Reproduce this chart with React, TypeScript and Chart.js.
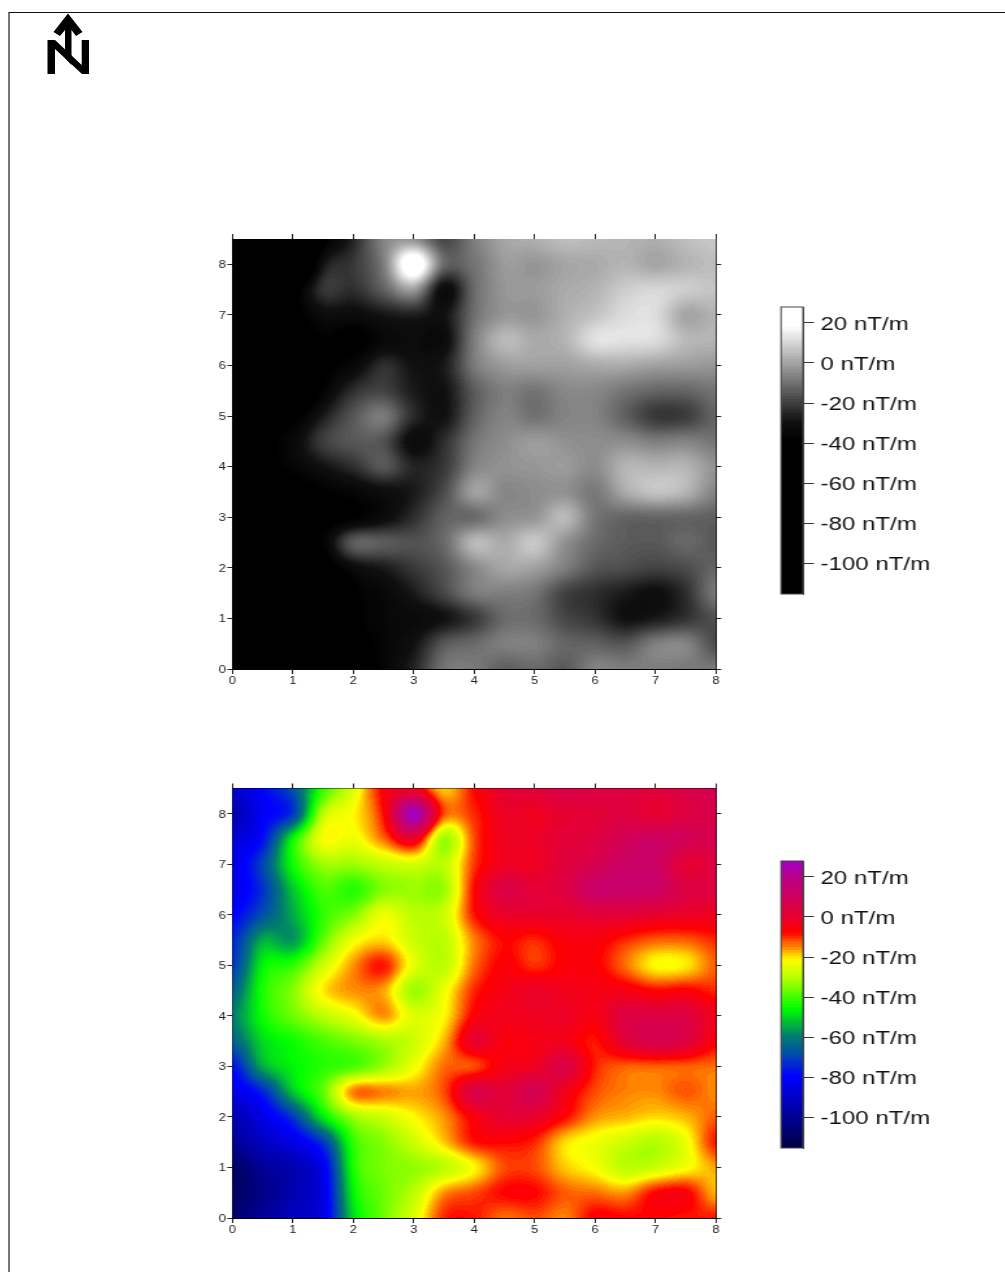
import React, { useEffect, useRef } from "react";
import { Chart, registerables } from "chart.js";

Chart.register(...registerables);

const xCoords = [0, 0.5, 1, 1.5, 2, 2.5, 3, 3.5, 4, 4.5, 5, 5.5, 6, 6.5, 7, 7.5, 8];
const yCoords = [8.5, 8, 7.5, 7, 6.5, 6, 5.5, 5, 4.5, 4, 3.5, 3, 2.5, 2, 1.5, 1, 0.5, 0];

const row85 = [-90, -80, -68, -42, -26, -7, -4, -19, -8, 0, 2, 5, 4, 3, 2, 5, 7];
const row80 = [-95, -82, -72, -30, -22, -8, 27, -12, -10, -2, -3, 0, 1, 3, 0, 3, 5];
const row75 = [-88, -78, -46, -23, -24, -14, -2, -33, -12, -3, -2, 1, 3, 8, 10, 8, 6];
const row70 = [-85, -70, -45, -33, -33, -29, -27, -30, -11, -3, -3, 2, 6, 11, 11, 0, 3];
const row65 = [-85, -73, -52, -40, -43, -35, -33, -33, -8, 4, 1, 3, 12, 12, 11, 4, 3];
const row60 = [-80, -68, -55, -42, -35, -24, -30, -28, -9, -2, -1, -1, 1, 1, -1, -2, -3];
const row55 = [-75, -55, -57, -38, -24, -20, -28, -30, -15, -8, -10, -6, -6, -10, -13, -13, -10];
const row50 = [-72, -47, -42, -28, -16, -9, -25, -30, -14, -7, -10.5, -7, -7, -14, -22, -21, -13];
const row45 = [-65, -44, -35, -21, -16, -17, -33, -24, -10, -5, -2, -4, -5, -5, -8, -7, -10];
const row40 = [-60, -45, -37, -30, -24, -16, -26, -22, -7, -4, -3, -2, -5, 3, 3, 3, -4];
const row35 = [-65, -50, -45, -40, -36, -32, -28, -18, -1, -6, -5, -4, -9, 1, 6, 3, -7];
const row30 = [-78, -55, -47, -43, -40, -33, -24, -14, -12, -5, -3, 4, -9.5, -13, -13, -13, -14];
const row25 = [-85, -75, -52, -38, -15, -15, -17, -12, 4, 1, 7, -4, -12, -15, -15.5, -12.5, -15.5];
const row20 = [-95, -85, -72, -48, -33, -28, -22, -16, -6, 0, -1, -8, -16, -18, -20, -18, -13];
const row15 = [-100, -92, -85, -72, -42, -35, -28, -19, -9, -8, -10, -20, -24, -28, -31, -24, -9];
const row10 = [-110, -100, -95, -83, -44, -36, -34, -30, -22, -12, -12, -19, -23, -30, -28, -23, -17];
const row05 = [-110, -103, -95, -85, -47, -37, -30, -16, -12, -8, -8, -13, -14, -16, -8, -7, -18];
const row00 = [-108, -100, -92, -85, -50, -37, -26, -10, -9, -14, -12, -15, -7, -8, -8, -9, -9];

const grid = [row85, row80, row75, row70, row65, row60, row55, row50, row45, row40, row35, row30, row25, row20, row15, row10, row05, row00];

const xTicks = [0, 1, 2, 3, 4, 5, 6, 7, 8];
const yTicks = [0, 1, 2, 3, 4, 5, 6, 7, 8];
const legendTicks = [-100, -80, -60, -40, -20, 0, 20];
const legendUnit = "nT/m";
const legendMin = -115.5;
const legendMax = 28;

type Stop = [number, number, number, number];
const greyStops: Stop[] = [
  [-40, 0, 0, 0],
  [-30, 16, 16, 16],
  [18, 255, 255, 255],
];
const rainbowStops: Stop[] = [
  [-115.5, 0, 0, 70],
  [-80, 0, 0, 255],
  [-70, 0, 70, 180],
  [-60, 0, 125, 110],
  [-46, 0, 255, 0],
  [-31, 180, 255, 0],
  [-22, 255, 255, 0],
  [-15, 255, 128, 0],
  [-8, 255, 0, 0],
  [0, 230, 0, 50],
  [10, 205, 0, 95],
  [20, 185, 0, 140],
  [28, 160, 0, 200],
];

const STRETCH = 1.3;
const LEVEL = 0.8;

function colourAt(stops: Stop[], raw: number): [number, number, number] {
  const v = Math.round(raw / LEVEL) * LEVEL;
  if (v <= stops[0][0]) return [stops[0][1], stops[0][2], stops[0][3]];
  for (let i = 1; i < stops.length; i++) {
    if (v <= stops[i][0]) {
      const a = stops[i - 1];
      const b = stops[i];
      const t = (v - a[0]) / (b[0] - a[0]);
      return [a[1] + (b[1] - a[1]) * t, a[2] + (b[2] - a[2]) * t, a[3] + (b[3] - a[3]) * t];
    }
  }
  const l = stops[stops.length - 1];
  return [l[1], l[2], l[3]];
}

function cubic(p0: number, p1: number, p2: number, p3: number, t: number) {
  return p1 + 0.5 * t * (p2 - p0 + t * (2 * p0 - 5 * p1 + 4 * p2 - p3 + t * (3 * (p1 - p2) + p3 - p0)));
}

function sample(x: number, y: number) {
  const fx = Math.min(Math.max(x / 0.5, 0), xCoords.length - 1.0001);
  const fy = Math.min(Math.max((8.5 - y) / 0.5, 0), yCoords.length - 1.0001);
  const ix = Math.floor(fx);
  const iy = Math.floor(fy);
  const tx = fx - ix;
  const ty = fy - iy;
  const at = (r: number, c: number) =>
    grid[Math.min(Math.max(r, 0), grid.length - 1)][Math.min(Math.max(c, 0), xCoords.length - 1)];
  const rows = [-1, 0, 1, 2].map((d) =>
    cubic(at(iy + d, ix - 1), at(iy + d, ix), at(iy + d, ix + 1), at(iy + d, ix + 2), tx)
  );
  return cubic(rows[0], rows[1], rows[2], rows[3], ty);
}

const heatPlugin = {
  id: "heat",
  beforeDatasetsDraw(chart: any, _a: any, opts: any) {
    const { left, right, top, bottom } = chart.chartArea;
    const sx = chart.scales.x;
    const sy = chart.scales.y;
    const x0 = Math.floor(left);
    const y0 = Math.floor(top);
    const w = Math.ceil(right) - x0;
    const h = Math.ceil(bottom) - y0;
    const off = document.createElement("canvas");
    off.width = w;
    off.height = h;
    const octx = off.getContext("2d")!;
    const img = octx.createImageData(w, h);
    for (let j = 0; j < h; j++) {
      const vy = sy.getValueForPixel(y0 + j + 0.5);
      for (let i = 0; i < w; i++) {
        const vx = sx.getValueForPixel(x0 + i + 0.5);
        const c = colourAt(opts.stops, sample(vx, vy));
        const k = (j * w + i) * 4;
        img.data[k] = c[0];
        img.data[k + 1] = c[1];
        img.data[k + 2] = c[2];
        img.data[k + 3] = 255;
      }
    }
    octx.putImageData(img, 0, 0);
    const ctx = chart.ctx;
    ctx.save();
    ctx.beginPath();
    ctx.rect(left, top, right - left, bottom - top);
    ctx.clip();
    ctx.drawImage(off, x0, y0);
    ctx.restore();
  },
};

const framePlugin = {
  id: "frame",
  afterDatasetsDraw(chart: any) {
    const { left, right, top, bottom } = chart.chartArea;
    const ctx = chart.ctx;
    ctx.save();
    ctx.strokeStyle = "#444";
    ctx.lineWidth = 1;
    ctx.strokeRect(left, top, right - left, bottom - top);
    ctx.restore();
  },
};

function setTicks(values: number[]) {
  return (scale: any) => {
    scale.ticks = values.map((value) => ({ value }));
  };
}
function fixWidth(width: number) {
  return (scale: any) => {
    scale.width = width;
    scale.paddingTop = 0;
    scale.paddingBottom = 0;
  };
}
function fixHeight(height: number) {
  return (scale: any) => {
    scale.height = height;
    scale.paddingLeft = 0;
    scale.paddingRight = 0;
  };
}

const FONT = "'Liberation Sans', Arial, sans-serif";

function heatConfig(stops: Stop[], paddingTop: number, paddingBottom: number) {
  const common = {
    grid: { drawOnChartArea: false, drawTicks: true, color: "#222", tickWidth: 1, lineWidth: 1 },
    border: { color: "#000", width: 1 },
  };
  const points = grid.flatMap((r, j) => r.map((v, i) => ({ x: xCoords[i], y: yCoords[j], v })));
  return {
    type: "scatter",
    data: { datasets: [{ data: points, pointRadius: 0, showLine: false, xAxisID: "x", yAxisID: "y" }] },
    plugins: [heatPlugin],
    options: {
      animation: false,
      responsive: false,
      events: [],
      layout: { padding: { left: 0, right: 7.7, top: paddingTop, bottom: paddingBottom } },
      plugins: { legend: { display: false }, tooltip: { enabled: false }, heat: { stops } },
      scales: {
        x: {
          type: "linear",
          position: "bottom",
          min: 0,
          max: 8,
          afterBuildTicks: setTicks(xTicks),
          afterFit: fixHeight(18),
          ...common,
          grid: { ...common.grid, tickLength: 5 },
          ticks: { font: { size: 10, family: FONT }, color: "#222", padding: 1, maxRotation: 0, autoSkip: false },
        },
        xTop: {
          type: "linear",
          position: "top",
          min: 0,
          max: 8,
          afterBuildTicks: setTicks(xTicks),
          afterFit: fixHeight(5),
          ...common,
          grid: { ...common.grid, tickLength: 5 },
          ticks: { display: false },
        },
        y: {
          type: "linear",
          position: "left",
          min: 0,
          max: 8.5,
          afterBuildTicks: setTicks(yTicks),
          afterFit: fixWidth(40.4),
          ...common,
          grid: { ...common.grid, tickLength: 4 },
          ticks: { font: { size: 10, family: FONT }, color: "#222", padding: 1, autoSkip: false, labelOffset: 1 },
        },
        yRight: {
          type: "linear",
          position: "right",
          min: 0,
          max: 8.5,
          afterBuildTicks: setTicks(yTicks),
          afterFit: fixWidth(10),
          ...common,
          grid: { ...common.grid, tickLength: 4 },
          ticks: { display: false },
        },
      },
    },
  };
}

function legendConfig(stops: Stop[]) {
  const datasets: any[] = [];
  const band = 1.43;
  for (let lo = legendMin; lo < legendMax; lo += band) {
    const c = colourAt(stops, lo + band / 2);
    datasets.push({
      data: [[lo, Math.min(lo + band + 0.2, legendMax)]],
      backgroundColor: `rgb(${c[0] | 0},${c[1] | 0},${c[2] | 0})`,
      borderWidth: 0,
      grouped: false,
      categoryPercentage: 1,
      barPercentage: 1,
    });
  }
  return {
    type: "bar",
    data: { labels: ["scale"], datasets },
    plugins: [framePlugin],
    options: {
      animation: false,
      responsive: false,
      events: [],
      layout: { padding: { left: 16.15, right: 0, top: 10, bottom: 13 } },
      plugins: { legend: { display: false }, tooltip: { enabled: false } },
      scales: {
        x: { type: "category", display: false },
        y: {
          type: "linear",
          position: "right",
          min: legendMin,
          max: legendMax,
          afterBuildTicks: setTicks(legendTicks),
          afterFit: fixWidth(154.95),
          grid: { drawOnChartArea: false, drawTicks: true, tickLength: 8.5, color: "#333" },
          border: { color: "#444" },
          ticks: {
            font: { size: 18.5, family: FONT },
            color: "#111",
            padding: 5,
            labelOffset: 2,
            autoSkip: false,
            callback: (v: number) => `${v} ${legendUnit}`,
          },
        },
      },
    },
  };
}

function ChartBox(props: { left: number; top: number; width: number; height: number; build: () => any }) {
  const ref = useRef<HTMLCanvasElement>(null);
  useEffect(() => {
    const chart = new Chart(ref.current!, props.build());
    return () => chart.destroy();
  }, []);
  return (
    <canvas
      ref={ref}
      width={props.width}
      height={props.height}
      style={{
        position: "absolute",
        left: props.left,
        top: props.top,
        width: props.width,
        height: props.height,
        transform: `scaleX(${STRETCH})`,
        transformOrigin: "0 0",
      }}
    />
  );
}

export default function App() {
  return (
    <div
      style={{
        position: "absolute",
        left: 0,
        top: 0,
        width: 1005,
        height: 1272,
        overflow: "hidden",
        background: "#fff",
      }}
    >
      <div style={{ position: "absolute", left: 8, top: 12, width: 2, height: 1260, background: "#777" }} />
      <div style={{ position: "absolute", left: 9, top: 12, width: 996, height: 1, background: "#111" }} />
      <svg
        role="img"
        aria-label="N"
        width={60}
        height={70}
        viewBox="40 10 60 70"
        style={{ position: "absolute", left: 40, top: 10 }}
      >
        <polygon points="68,13.5 82.5,32 76,36 71.5,30 71.5,65 65,58 65,30 60,36 53.5,32" fill="#000" />
        <polygon
          points="47.5,40 55,40 81.7,65 81.7,40 89,40 89,74 82,74 55,49 55,74 47.5,74"
          fill="#000"
        />
      </svg>
      <ChartBox left={180} top={220} width={430} height={470} build={() => heatConfig(greyStops, 14, 3)} />
      <ChartBox left={760} top={297} width={188} height={310} build={() => legendConfig(greyStops)} />
      <ChartBox left={180} top={769} width={430} height={470} build={() => heatConfig(rainbowStops, 14.5, 3)} />
      <ChartBox left={760} top={851} width={188} height={310} build={() => legendConfig(rainbowStops)} />
    </div>
  );
}
